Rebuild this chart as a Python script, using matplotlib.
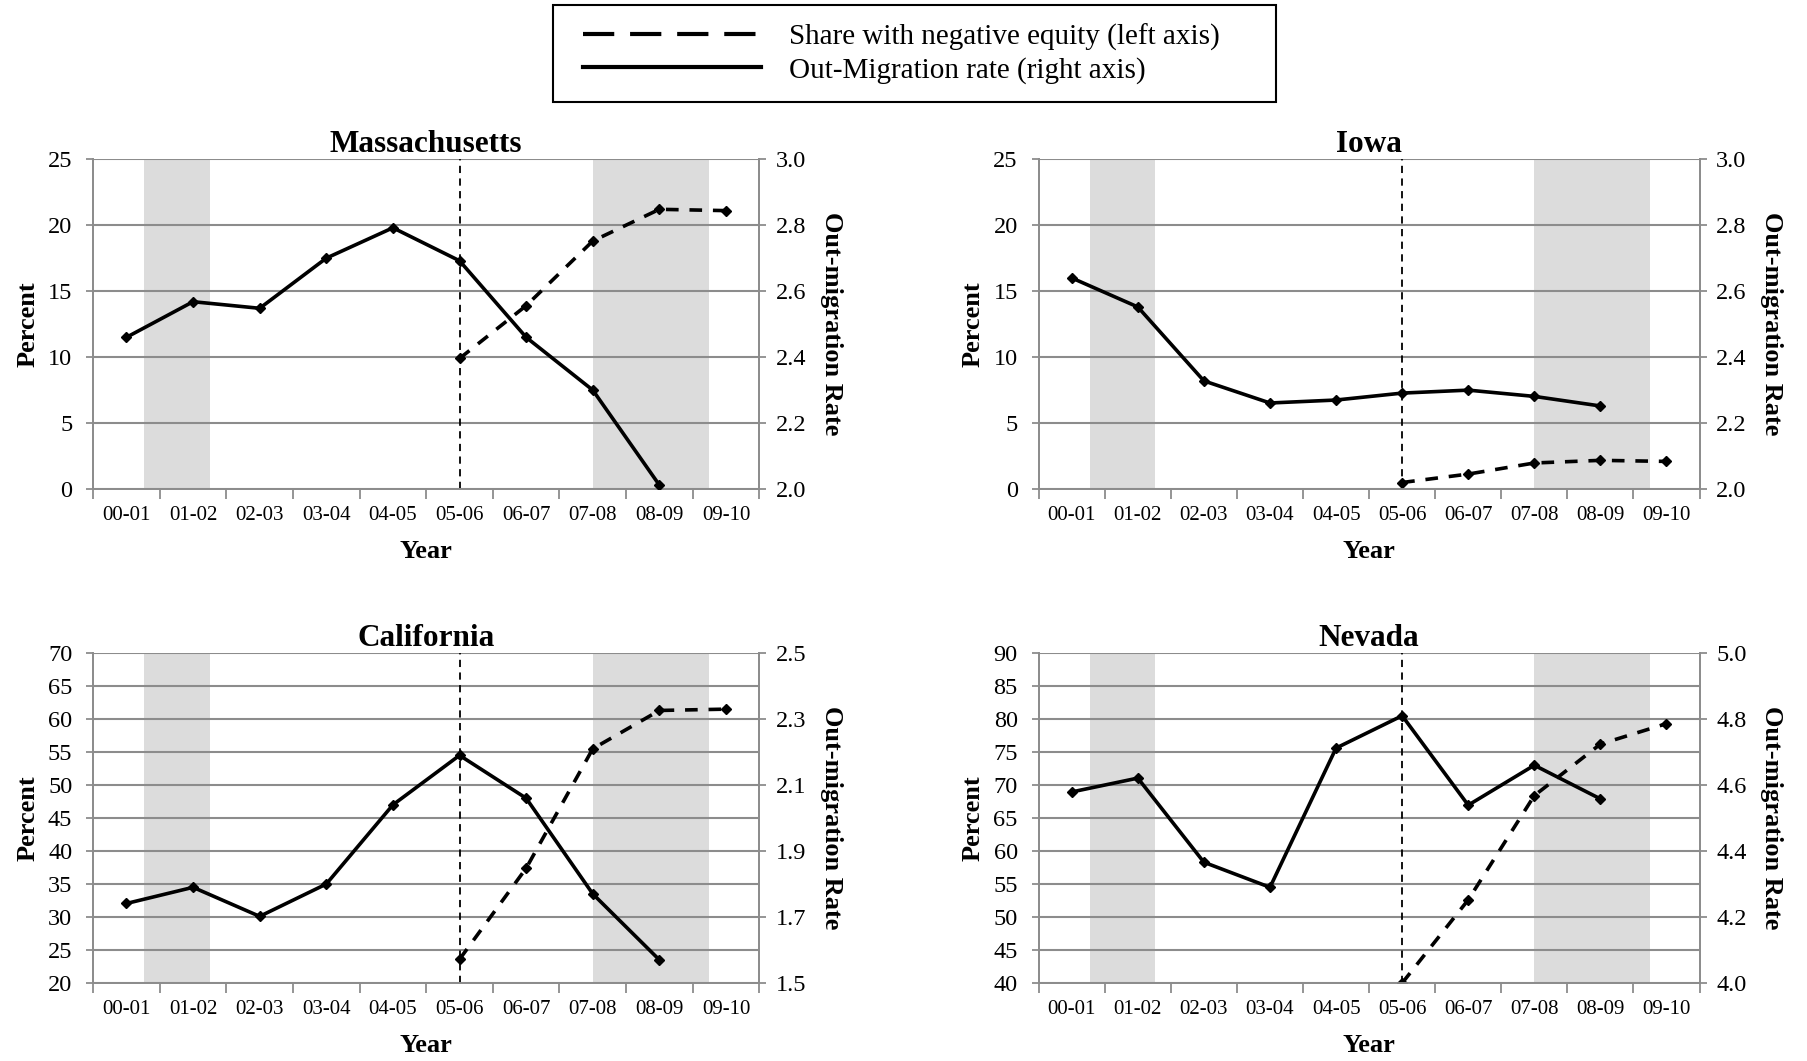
import numpy as np
import matplotlib
matplotlib.use('Agg')
import matplotlib.pyplot as plt
import matplotlib.patches as patches
from matplotlib.lines import Line2D

plt.rcParams['font.family'] = ['Liberation Serif', 'DejaVu Serif']

# data
years = ['00-01', '01-02', '02-03', '03-04', '04-05', '05-06', '06-07', '07-08', '08-09', '09-10']
rate_years = years[:9]
equity_years = years[5:]

ma_rate = [2.46, 2.568, 2.548, 2.70, 2.792, 2.692, 2.46, 2.30, 2.012]
ma_equity = [9.9, 13.9, 18.8, 21.2, 21.1]
ia_rate = [2.64, 2.552, 2.328, 2.261, 2.27, 2.291, 2.30, 2.281, 2.252]
ia_equity = [0.5, 1.14, 1.98, 2.18, 2.1]
ca_rate = [1.741, 1.79, 1.702, 1.80, 2.04, 2.19, 2.06, 1.77, 1.57]
ca_equity = [23.6, 37.4, 55.5, 61.3, 61.5]
nv_rate = [4.579, 4.621, 4.366, 4.29, 4.712, 4.81, 4.539, 4.66, 4.558]
nv_equity = [40.0, 52.6, 68.4, 76.2, 79.3]

# recessions, in category units (0 = first year)
recessions = [(0.27, 1.26), (7.0, 8.75)]
crisis_year = '05-06'

panels = [
    ('Massachusetts', ma_equity, ma_rate, (0, 25, 5), (2.0, 3.0, 0.2)),
    ('Iowa', ia_equity, ia_rate, (0, 25, 5), (2.0, 3.0, 0.2)),
    ('California', ca_equity, ca_rate, (20, 70, 5), (1.5, 2.5, 0.2)),
    ('Nevada', nv_equity, nv_rate, (40, 90, 5), (4.0, 5.0, 0.2)),
]
boxes = [
    [0.0515, 0.539, 0.3685, 0.311],
    [0.5745, 0.539, 0.3655, 0.311],
    [0.0515, 0.0735, 0.3685, 0.311],
    [0.5745, 0.0735, 0.3655, 0.311],
]

grey = '#8c8c8c'
fig = plt.figure(figsize=(18.08, 10.61), dpi=100)

for (name, equity, rate, lrng, rrng), box in zip(panels, boxes):
    ax = fig.add_axes(box)
    ax2 = ax.twinx()
    x_all = np.arange(len(years))
    xr = [years.index(y) for y in rate_years]
    xe = [years.index(y) for y in equity_years]

    for a, b in recessions:
        ax.axvspan(a, b, color='#dcdcdc', lw=0, zorder=0.1)
    ax.axvline(years.index(crisis_year), color='black', lw=1.3, ls=(0, (4, 3)), zorder=1)

    ax.plot(xe, equity, color='black', lw=2.6, ls=(0, (3.5, 3)), marker='D', ms=5, zorder=3)
    ax2.plot(xr, rate, color='black', lw=2.6, marker='D', ms=5, zorder=3)

    ax.set_xlim(-0.5, len(years) - 0.5)
    ax.set_ylim(lrng[0], lrng[1])
    ax.set_yticks(np.arange(lrng[0], lrng[1] + 0.1, lrng[2]))
    ax2.set_ylim(rrng[0], rrng[1])
    ax2.set_yticks(np.arange(rrng[0], rrng[1] + 0.01, rrng[2]))
    ax2.set_yticklabels(['%.1f' % v for v in np.arange(rrng[0], rrng[1] + 0.01, rrng[2])])

    ax.set_xticks(np.arange(-0.5, len(years)), minor=False)
    ax.set_xticklabels([])
    ax.set_xticks(x_all, minor=True)
    ax.set_xticklabels(years, minor=True, fontsize=15)
    ax.tick_params(axis='x', which='major', length=7, color=grey, width=1.3)
    ax.tick_params(axis='x', which='minor', length=0, pad=12)
    ax.tick_params(axis='y', length=5, color=grey, width=1.3, labelsize=17.5, pad=10)
    ax2.tick_params(axis='y', length=5, color=grey, width=1.3, labelsize=17.5, pad=7)

    ax.set_axisbelow(True)
    ax.yaxis.grid(True, color=grey, lw=1.5)
    for a_ in (ax, ax2):
        a_.spines['top'].set_visible(False)
        for s in ('left', 'right', 'bottom'):
            a_.spines[s].set_color(grey)
            a_.spines[s].set_linewidth(1.3)

    ax.set_title(name, fontsize=22.5, fontweight='bold', pad=4)
    ax.set_ylabel('Percent', fontsize=19, fontweight='bold', labelpad=6)
    ax2.set_ylabel('Out-migration Rate', fontsize=19, fontweight='bold', rotation=270, labelpad=26)
    ax.set_xlabel('Year', fontsize=19, fontweight='bold', labelpad=11)

# legend: box drawn by hand so the padding matches
fig.patches.append(patches.Rectangle((0.306, 0.904), 0.400, 0.0913, transform=fig.transFigure,
                                     fill=False, edgecolor='black', lw=1.5))
handles = [
    Line2D([], [], color='black', lw=3, ls=(0, (7.5, 3.8))),
    Line2D([], [], color='black', lw=3),
]
fig.legend(handles, ['Share with negative equity (left axis)', 'Out-Migration rate (right axis)'],
           loc='center left', bbox_to_anchor=(0.3225, 0.9496), fontsize=21, frameon=False,
           handlelength=6.1, borderpad=0, labelspacing=0.2, handletextpad=0.95, borderaxespad=0)

fig.savefig('out.png', dpi=100)
